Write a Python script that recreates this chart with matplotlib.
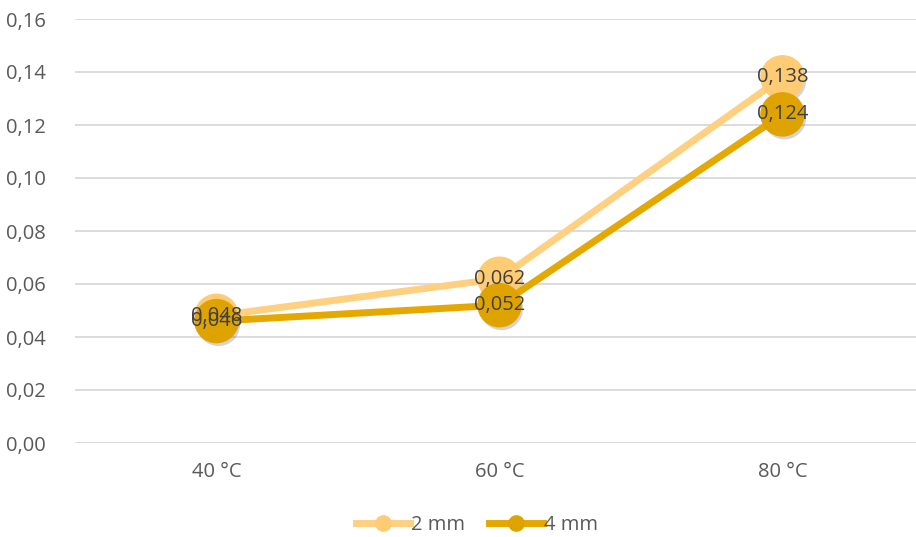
import matplotlib
matplotlib.use("Agg")
import matplotlib.pyplot as plt
import matplotlib.patheffects as pe
from matplotlib.ticker import FuncFormatter
from matplotlib.lines import Line2D

categories = ["40 °C", "60 °C", "80 °C"]
series_names = ["2 mm", "4 mm"]
values_2mm = [0.048, 0.062, 0.138]
values_4mm = [0.046, 0.052, 0.124]
y_ticks = [0.00, 0.02, 0.04, 0.06, 0.08, 0.10, 0.12, 0.14, 0.16]

colors = ["#FFD07F", "#E5A800"]
marker_colors = ["#FFCB73", "#DFA300"]

plt.rcParams["font.family"] = ["Open Sans", "DejaVu Sans"]

fig = plt.figure(figsize=(9.16, 5.37), dpi=100)
ax = fig.add_axes([75 / 916, 1 - 443 / 537, 849 / 916, (443 - 19) / 537])

x = list(range(len(categories)))
shadow = [pe.SimplePatchShadow(offset=(1.5, -2.5), alpha=0.25, shadow_rgbFace="#555555"), pe.Normal()]

for vals, c, mc, z in zip([values_2mm, values_4mm], colors, marker_colors, [3, 4]):
    ax.plot(x, vals, color=c, lw=5, solid_capstyle="round", zorder=z)
    ax.plot(x, vals, ls="none", marker="o", ms=31, color=mc, mec=mc, zorder=z + 0.5,
            path_effects=shadow)

for vals in [values_2mm, values_4mm]:
    for xi, v in zip(x, vals):
        ax.text(xi, v, f"{v:.3f}".replace(".", ","), ha="center", va="center",
                fontsize=14.5, color="#404040", zorder=10)

ax.set_xlim(-0.5, 2.5)
ax.set_ylim(0, 0.16)
ax.set_yticks(y_ticks)
ax.yaxis.set_major_formatter(FuncFormatter(lambda v, p: f"{v:.2f}".replace(".", ",")))
ax.set_xticks(x)
ax.set_xticklabels(categories)
ax.tick_params(axis="both", length=0, labelsize=14.5, labelcolor="#595959")
ax.tick_params(axis="y", pad=21)
ax.tick_params(axis="x", pad=14)
ax.grid(axis="y", color="#D9D9D9", lw=1.3)
ax.set_axisbelow(True)
for s in ax.spines.values():
    s.set_visible(False)

handles = [Line2D([], [], color=c, lw=5, marker="o", ms=11, mfc=mc, mec=mc)
           for c, mc in zip(colors, marker_colors)]
fig.legend(handles, series_names, loc="center", bbox_to_anchor=(477 / 916, 1 - 525 / 537),
           ncol=2, frameon=False, fontsize=14.5, labelcolor="#595959",
           handlelength=2.7, handletextpad=0.05, columnspacing=1.2)

fig.savefig("out.png", dpi=100)
